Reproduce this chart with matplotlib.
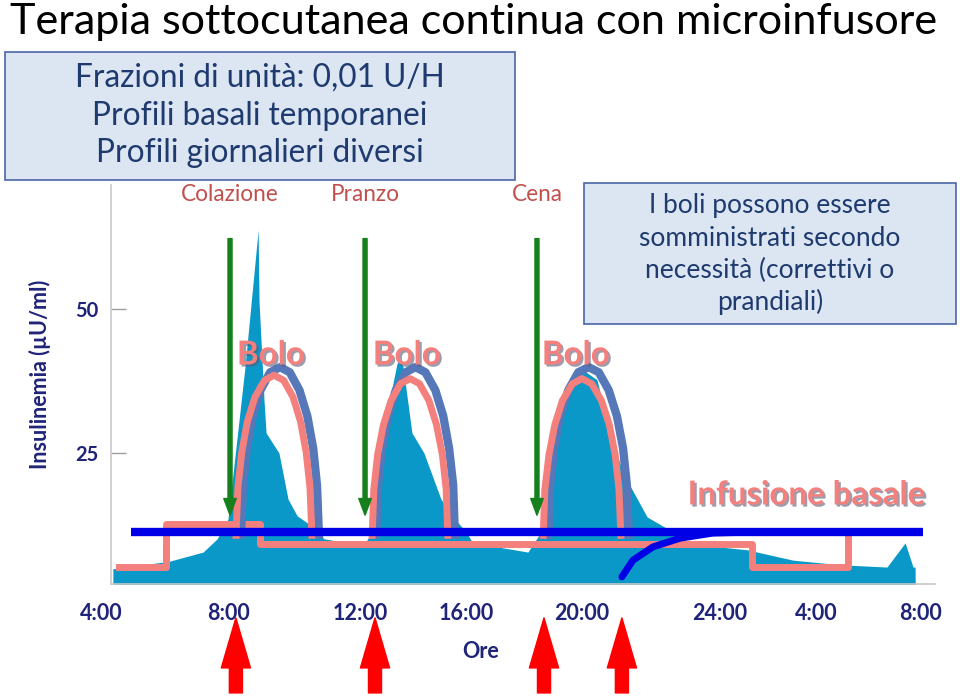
import matplotlib
matplotlib.use("Agg")
import matplotlib.pyplot as plt
import matplotlib.transforms as mtransforms
from matplotlib import patheffects
from matplotlib.patches import Rectangle

plt.rcParams['font.family'] = ['Lato', 'DejaVu Sans']

# ore sull'asse x (4 = 4:00, 32 = 8:00 del giorno dopo), insulinemia in µU/ml
insulin_hours = [4.44, 6.36, 7.52, 8.00, 8.37, 8.95, 9.40, 9.43, 9.60, 9.67, 10.11, 10.42,
                 10.73, 11.07, 11.65, 12.23, 13.08, 13.29, 13.66, 14.14, 14.24, 14.35, 14.65,
                 15.06, 15.64, 16.12, 16.50, 16.70, 17.56, 18.61, 19.06, 19.54, 20.01, 20.49,
                 20.97, 21.41, 21.86, 22.68, 23.46, 23.80, 26.09, 27.66, 29.27, 30.87, 31.49,
                 31.76, 31.83, 31.84]
insulin_level = [4.9, 6.2, 7.8, 10.1, 13.5, 39.9, 63.7, 51.4, 34.2, 28.5, 25.0, 17.0,
                 14.1, 12.9, 10.1, 9.6, 9.6, 11.3, 28.5, 40.5, 41.2, 39.9, 28.5,
                 25.0, 17.0, 13.5, 11.3, 9.6, 8.7, 7.8, 11.3, 28.5, 37.7, 39.4,
                 37.7, 28.5, 21.5, 13.9, 11.6, 9.4, 8.2, 6.4, 5.6, 5.2, 9.4,
                 5.2, 5.2, 0.0]

basal_rate_hours = [4.65, 6.25, 9.46, 26.26, 29.54]
basal_rate_level = [5.2, 12.7, 9.2, 5.2, 10.4]

pump_basal_hours = [5.06, 32.1]
pump_basal_level = [11.3, 11.3]

onset_hours = [21.82, 22.20, 22.88, 23.80, 24.93, 26.5]
onset_level = [3.5, 6.4, 8.7, 10.2, 11.1, 11.3]

bolo_rosa_hours = [
    [8.64, 8.71, 8.84, 9.03, 9.29, 9.62, 9.94, 10.27, 10.59, 10.85, 11.04, 11.17, 11.24],
    [13.29, 13.35, 13.48, 13.68, 13.94, 14.26, 14.59, 14.91, 15.23, 15.49, 15.69, 15.82, 15.88],
    [19.13, 19.19, 19.33, 19.53, 19.79, 20.13, 20.46, 20.79, 21.12, 21.39, 21.59, 21.72, 21.79],
]
bolo_rosa_level = [
    [10.1, 19.0, 25.1, 30.4, 34.7, 37.6, 38.5, 37.6, 34.7, 30.4, 25.1, 19.0, 10.1],
    [10.1, 18.7, 24.7, 29.9, 34.1, 37.0, 37.9, 37.0, 34.1, 29.9, 24.7, 18.7, 10.1],
    [10.1, 18.7, 24.7, 29.9, 34.1, 37.0, 37.9, 37.0, 34.1, 29.9, 24.7, 18.7, 10.1],
]
bolo_blu_hours = [
    [8.81, 8.88, 9.01, 9.21, 9.48, 9.81, 10.15, 10.48, 10.81, 11.08, 11.28, 11.41, 11.48],
    [13.42, 13.49, 13.63, 13.83, 14.10, 14.44, 14.77, 15.11, 15.45, 15.72, 15.92, 16.06, 16.12],
    [19.30, 19.37, 19.50, 19.71, 19.99, 20.33, 20.68, 21.03, 21.37, 21.65, 21.86, 21.99, 22.06],
]
bolo_blu_level = [
    [10.1, 19.4, 25.8, 31.4, 35.9, 39.0, 39.9, 39.0, 35.9, 31.4, 25.8, 19.4, 10.1],
    [10.1, 19.4, 25.8, 31.4, 35.9, 39.0, 39.9, 39.0, 35.9, 31.4, 25.8, 19.4, 10.1],
    [10.1, 19.4, 25.8, 31.4, 35.9, 39.0, 39.9, 39.0, 35.9, 31.4, 25.8, 19.4, 10.1],
]
bolo_label_hours = [9.84, 14.48, 20.25]

meals = ["Colazione", "Pranzo", "Cena"]
meal_hours = [8.44, 13.05, 18.92]
bolus_arrow_hours = [8.64, 13.39, 19.16, 21.82]

time_labels = ["4:00", "8:00", "12:00", "16:00", "20:00", "24:00", "4:00", "8:00"]
time_label_hours = [4.03, 8.40, 12.88, 16.50, 20.46, 25.17, 28.45, 32.0]
yticks = [25, 50]

box1_lines = ["Frazioni di unità: 0,01 U/H", "Profili basali temporanei", "Profili giornalieri diversi"]
box2_lines = ["I boli possono essere", "somministrati secondo", "necessità (correttivi o", "prandiali)"]

navy = '#1f2478'
salmon = '#f4807e'

fig = plt.figure(figsize=(9.6, 6.98), dpi=100)
renderer = fig.canvas.get_renderer()


def fit_width(txt, px):
    w = txt.get_window_extent(renderer).width
    txt.set_fontsize(txt.get_fontsize() * px / w)


ax = fig.add_axes([111 / 960, 1 - 584 / 698, (935 - 111) / 960, (584 - 185) / 698])
ax.set_xlim(4.376, 32.51)
ax.set_ylim(2.26, 71.5)

ax.fill_between(insulin_hours, insulin_level, 0, color='#0a98c8', lw=0, zorder=1)
ax.plot(basal_rate_hours, basal_rate_level, drawstyle='steps-post', color=salmon, lw=5, zorder=2)
for hs, ls in zip(bolo_blu_hours, bolo_blu_level):
    ax.plot(hs, ls, color='#5677b8', lw=6, zorder=3, solid_capstyle='butt')
for hs, ls in zip(bolo_rosa_hours, bolo_rosa_level):
    ax.plot(hs, ls, color=salmon, lw=5, zorder=4, solid_capstyle='butt')
ax.plot(pump_basal_hours, pump_basal_level, color='#0000e6', lw=6, zorder=5, solid_capstyle='butt')
ax.plot(onset_hours, onset_level, color='#0000e6', lw=5, zorder=5, solid_capstyle='round')

# frecce verdi dei pasti
for h in meal_hours:
    ax.annotate('', xy=(h, 14.2), xytext=(h, 62.2), zorder=6,
                arrowprops=dict(arrowstyle='simple,head_length=1.2,head_width=0.9,tail_width=0.29',
                                color='#15801c', shrinkA=0, shrinkB=0, mutation_scale=10))

blend = mtransforms.blended_transform_factory(ax.transData, ax.transAxes)
for name, h in zip(meals, meal_hours):
    t = ax.text(h, 0.975, name, transform=blend, ha='center', va='center',
                color='#c0504d', fontsize=12.5)
    if name == "Colazione":
        fit_width(t, 98)
        meal_size = t.get_fontsize()
    else:
        t.set_fontsize(meal_size)

shadow = [patheffects.SimplePatchShadow(offset=(1.5, -1.5), shadow_rgbFace='#5a5a7a', alpha=0.6),
          patheffects.Normal()]
for h in bolo_label_hours:
    t = ax.text(h, 42.0, 'Bolo', ha='center', va='center', color=salmon, fontweight='bold',
                fontsize=18, zorder=7, path_effects=shadow)
    fit_width(t, 68)
t = ax.text(28.11, 17.7, 'Infusione basale', ha='center', va='center', color=salmon,
            fontweight='bold', fontsize=18, zorder=7, path_effects=shadow)
fit_width(t, 238)

# etichette ore e frecce rosse sotto l'asse
for lab, h in zip(time_labels, time_label_hours):
    ax.text(h, -0.073, lab, transform=blend, ha='center', va='center', color=navy,
            fontweight='bold', fontsize=15.5, clip_on=False)
ax.text(17.01, -0.168, 'Ore', transform=blend, ha='center', va='center', color=navy,
        fontweight='bold', fontsize=15.5, clip_on=False)
for h in bolus_arrow_hours:
    ax.annotate('', xy=(h, -0.085), xytext=(h, -0.273), xycoords=blend, textcoords=blend,
                annotation_clip=False,
                arrowprops=dict(arrowstyle='simple,head_length=3.6,head_width=2.1,tail_width=0.94',
                                color='#ff0000', shrinkA=0, shrinkB=0, mutation_scale=10))

ax.set_xticks([])
ax.set_yticks(yticks)
ax.tick_params(axis='y', direction='in', length=11, width=1, color='#a0a0a0',
               labelcolor=navy, labelsize=14.5, pad=9)
for lab in ax.get_yticklabels():
    lab.set_fontweight('bold')
for s in ['top', 'right']:
    ax.spines[s].set_visible(False)
for s in ['left', 'bottom']:
    ax.spines[s].set_color('#c8c8c8')
    ax.spines[s].set_linewidth(1.2)

fig.text(40 / 960, 0.464, 'Insulinemia (µU/ml)', rotation=90, ha='center', va='center',
         color=navy, fontweight='bold', fontsize=15.5)

# titolo e riquadri
title = fig.text(10 / 960, 1 - 22 / 698, 'Terapia sottocutanea continua con microinfusore',
                 ha='left', va='center', fontsize=30, color='black')
fit_width(title, 930)

fig.add_artist(Rectangle((5 / 960, 1 - 180 / 698), 510 / 960, 128 / 698, transform=fig.transFigure,
                         facecolor='#dce6f2', edgecolor='#4a66a6', lw=1.2, zorder=8))
box1_y = [78, 116, 153]
texts = [fig.text(260 / 960, 1 - y / 698, s, ha='center', va='center', color='#1e3a6e',
                  fontsize=20, zorder=9) for s, y in zip(box1_lines, box1_y)]
fit_width(texts[0], 370)
for t in texts[1:]:
    t.set_fontsize(texts[0].get_fontsize())

fig.add_artist(Rectangle((584 / 960, 1 - 324 / 698), 372 / 960, 141 / 698, transform=fig.transFigure,
                         facecolor='#dce6f2', edgecolor='#4a66a6', lw=1.2, zorder=8))
box2_y = [205, 238, 270, 302]
texts = [fig.text(770 / 960, 1 - y / 698, s, ha='center', va='center', color='#1e3a6e',
                  fontsize=16, zorder=9) for s, y in zip(box2_lines, box2_y)]
fit_width(texts[1], 262)
for t in texts:
    t.set_fontsize(texts[1].get_fontsize())

fig.savefig('out.png', dpi=100)
